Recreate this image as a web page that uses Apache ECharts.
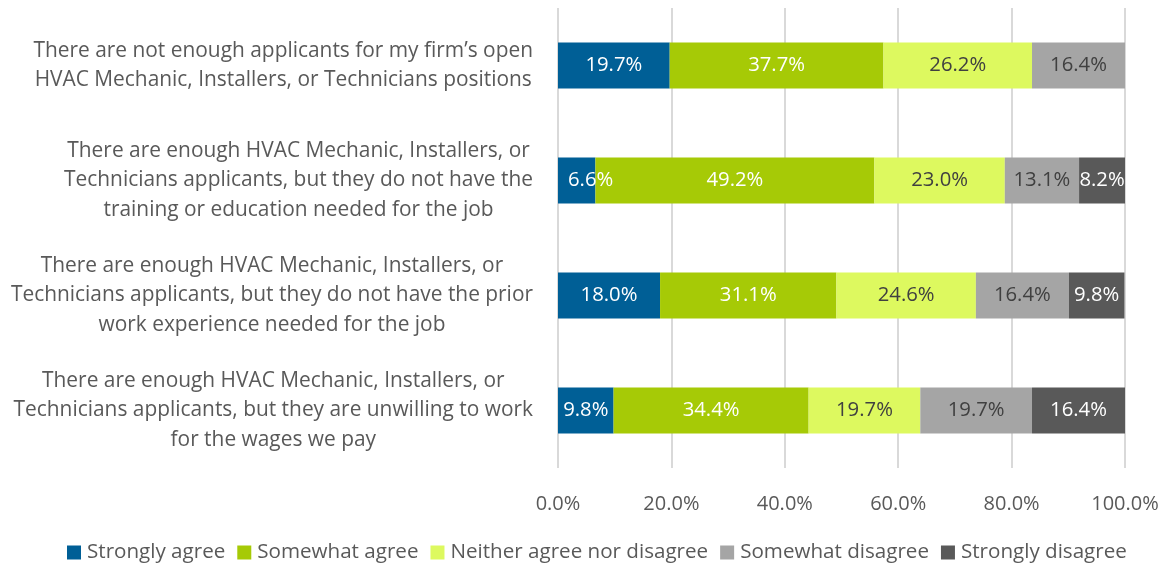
<!DOCTYPE html>
<html>
<head>
<meta charset="utf-8">
<script src="https://cdn.jsdelivr.net/npm/echarts@6/dist/echarts.min.js"></script>
<style>
  html, body { margin: 0; padding: 0; background: #fff; }
  #chart { width: 1168px; height: 567px; }
</style>
</head>
<body>
<div id="chart"></div>
<script>
// Survey statements (top to bottom)
const categories = [
  "There are not enough applicants for my firm\u2019s open\nHVAC Mechanic, Installers, or Technicians positions",
  "There are enough HVAC Mechanic, Installers, or\nTechnicians applicants, but they do not have the\ntraining or education needed for the job",
  "There are enough HVAC Mechanic, Installers, or\nTechnicians applicants, but they do not have the prior\nwork experience needed for the job",
  "There are enough HVAC Mechanic, Installers, or\nTechnicians applicants, but they are unwilling to work\nfor the wages we pay"
];

const seriesNames = [
  "Strongly agree",
  "Somewhat agree",
  "Neither agree nor disagree",
  "Somewhat disagree",
  "Strongly disagree"
];

// Percent of respondents per response, one value per statement
const stronglyAgree    = [19.7, 6.6, 18.0, 9.8];
const somewhatAgree    = [37.7, 49.2, 31.1, 34.4];
const neither          = [26.2, 23.0, 24.6, 19.7];
const somewhatDisagree = [16.4, 13.1, 16.4, 19.7];
const stronglyDisagree = [0, 8.2, 9.8, 16.4];

const xTicks = [0, 20, 40, 60, 80, 100];

const colors = ["#005F96", "#A6CA06", "#DDF95F", "#A5A5A5", "#595959"];
const labelColors = ["#ffffff", "#ffffff", "#404040", "#404040", "#ffffff"];
const values = [stronglyAgree, somewhatAgree, neither, somewhatDisagree, stronglyDisagree];

const FONT = "'Open Sans', Lato, sans-serif";
const TEXT = "#595959";

const chart = echarts.init(document.getElementById("chart"), null, { renderer: "canvas" });

chart.setOption({
  animation: false,
  textStyle: { fontFamily: FONT },
  grid: { left: 558, right: 43, top: 8, bottom: 99, containLabel: false },
  xAxis: {
    type: "value",
    min: xTicks[0],
    max: xTicks[xTicks.length - 1],
    interval: 20,
    axisLine: { show: false },
    axisTick: { show: false },
    splitLine: { lineStyle: { color: "#D9D9D9", width: 2 } },
    axisLabel: {
      formatter: v => v.toFixed(1) + "%",
      color: TEXT,
      fontSize: 20,
      fontFamily: FONT,
      margin: 26
    }
  },
  yAxis: {
    type: "category",
    data: categories,
    inverse: true,
    axisLine: { show: false },
    axisTick: { show: false },
    axisLabel: {
      align: "right",
      margin: 25,
      // each line centred inside a right-anchored text block
      formatter: v => v.split("\n").map(line => "{c|" + line + "}").join("\n"),
      rich: {
        c: {
          align: "center",
          color: TEXT,
          fontSize: 20.9,
          fontFamily: FONT,
          lineHeight: 29.5
        }
      }
    }
  },
  legend: {
    bottom: -1,
    left: 62,
    itemWidth: 14,
    itemHeight: 14,
    itemGap: 12,
    icon: "rect",
    textStyle: { color: TEXT, fontSize: 20.6, fontFamily: FONT, padding: [0, 0, 0, 1] },
    data: seriesNames
  },
  series: seriesNames.map((name, i) => ({
    name: name,
    type: "bar",
    stack: "total",
    barWidth: "40%",
    itemStyle: { color: colors[i] },
    label: {
      show: true,
      position: "inside",
      color: labelColors[i],
      fontSize: 20.3,
      fontFamily: FONT,
      formatter: p => (p.value > 0 ? p.value.toFixed(1) + "%" : "")
    },
    // narrow segments start their label near the left edge instead of centring it
    data: values[i].map(v => v < 8
      ? { value: v, label: { position: "insideLeft", distance: 10 } }
      : v)
  }))
});
</script>
</body>
</html>
